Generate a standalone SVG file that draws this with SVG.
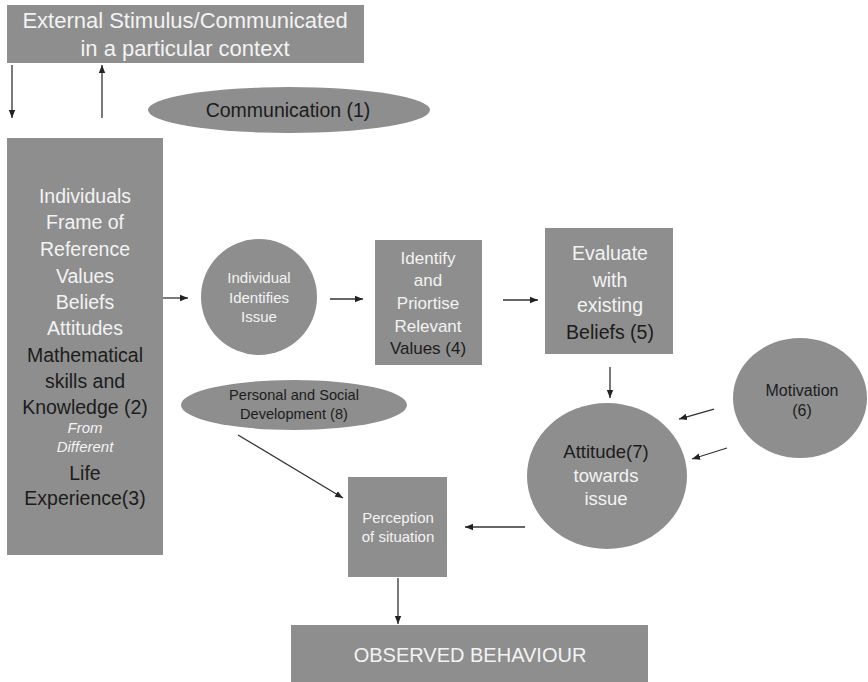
<svg xmlns="http://www.w3.org/2000/svg" width="868" height="682" viewBox="0 0 868 682">
<defs>
<marker id="ah" markerUnits="userSpaceOnUse" markerWidth="8" markerHeight="8" viewBox="0 0 8 8" refX="8" refY="4" orient="auto">
<path d="M0,0.8 L8,4 L0,7.2 Z" fill="#222"/>
</marker>
<style>
.n{fill:#8e8e8e;stroke:none}
.t{font-family:"Liberation Sans",Arial,sans-serif;text-anchor:middle}
.w{fill:#f3f3f3}
.d{fill:#1c1c1c}
.c{stroke:#333;stroke-width:1.3;fill:none;marker-end:url(#ah)}
</style>
</defs>
<rect width="868" height="682" fill="#fff"/>
<g id="external">
<rect class="n" x="7" y="5" width="357" height="58"/>
<text class="t w" font-size="22" x="185" y="28">External Stimulus/Communicated</text>
<text class="t w" font-size="22" x="185" y="56">in a particular context</text>
</g>
<g id="communication">
<ellipse class="n" cx="289" cy="110" rx="141" ry="23"/>
<text class="t d" font-size="19.5" x="288" y="117">Communication (1)</text>
</g>
<g id="frame">
<rect class="n" x="7" y="138" width="156" height="417"/>
<g class="t" font-size="19.5">
<text class="w" x="85" y="203">Individuals</text>
<text class="w" x="85" y="229">Frame of</text>
<text class="w" x="85" y="256">Reference</text>
<text class="w" x="85" y="283">Values</text>
<text class="w" x="85" y="309">Beliefs</text>
<text class="w" x="85" y="335">Attitudes</text>
<text class="d" x="85" y="362">Mathematical</text>
<text class="d" x="85" y="388">skills and</text>
<text class="d" x="85" y="414">Knowledge (2)</text>
<text class="w" x="85" y="433" font-size="15" font-style="italic">From</text>
<text class="w" x="85" y="452" font-size="15" font-style="italic">Different</text>
<text class="d" x="85" y="480">Life</text>
<text class="d" x="85" y="505">Experience(3)</text>
</g>
</g>
<g id="identifies">
<circle class="n" cx="259" cy="297" r="58"/>
<g class="t w" font-size="15">
<text x="259" y="283">Individual</text>
<text x="259" y="303">Identifies</text>
<text x="259" y="322">Issue</text>
</g>
</g>
<g id="prioritise">
<rect class="n" x="375" y="240" width="107" height="125"/>
<g class="t" font-size="17">
<text class="w" x="428" y="264">Identify</text>
<text class="w" x="428" y="286">and</text>
<text class="w" x="428" y="309">Priortise</text>
<text class="w" x="428" y="332">Relevant</text>
<text class="d" x="428" y="354">Values (4)</text>
</g>
</g>
<g id="evaluate">
<rect class="n" x="545" y="228" width="128" height="126"/>
<g class="t" font-size="19.5">
<text class="w" x="610" y="260">Evaluate</text>
<text class="w" x="610" y="287">with</text>
<text class="w" x="610" y="312">existing</text>
<text class="d" x="610" y="339">Beliefs (5)</text>
</g>
</g>
<g id="motivation">
<ellipse class="n" cx="800" cy="398" rx="67" ry="60"/>
<text class="t d" font-size="16" x="802" y="396">Motivation</text>
<text class="t d" font-size="16" x="802" y="416">(6)</text>
</g>
<g id="attitude">
<ellipse class="n" cx="607" cy="476" rx="80" ry="73"/>
<text class="t d" font-size="18.5" x="606" y="458">Attitude(7)</text>
<text class="t w" font-size="18.5" x="606" y="482">towards</text>
<text class="t w" font-size="18.5" x="606" y="505">issue</text>
</g>
<g id="personal">
<ellipse class="n" cx="294" cy="405" rx="113" ry="25"/>
<text class="t d" font-size="14.6" x="294" y="400">Personal and Social</text>
<text class="t d" font-size="14.6" x="294" y="419">Development (8)</text>
</g>
<g id="perception">
<rect class="n" x="348" y="477" width="99" height="100"/>
<text class="t w" font-size="15" x="398" y="523">Perception</text>
<text class="t w" font-size="15" x="398" y="542">of situation</text>
</g>
<g id="behaviour">
<rect class="n" x="291" y="625" width="357" height="57"/>
<text class="t w" font-size="20" x="470" y="662">OBSERVED BEHAVIOUR</text>
</g>
<g id="connectors">
<line class="c" x1="12" y1="65" x2="12" y2="118"/>
<line class="c" x1="102" y1="118" x2="102" y2="65"/>
<line class="c" x1="163" y1="298" x2="188" y2="298"/>
<line class="c" x1="330" y1="299" x2="363" y2="299"/>
<line class="c" x1="503" y1="300" x2="538" y2="300"/>
<line class="c" x1="610" y1="367" x2="610" y2="398"/>
<line class="c" x1="714" y1="409" x2="679" y2="419"/>
<line class="c" x1="727" y1="448" x2="692" y2="459"/>
<line class="c" x1="238" y1="435" x2="343" y2="498"/>
<line class="c" x1="525" y1="527" x2="465" y2="527"/>
<line class="c" x1="398" y1="578" x2="398" y2="624"/>
</g>
</svg>
